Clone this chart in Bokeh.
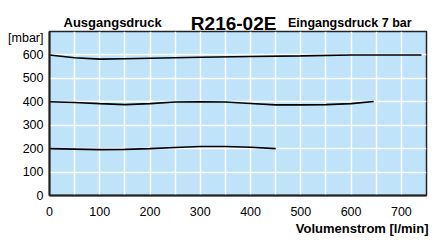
from bokeh.plotting import figure
from bokeh.models import Range1d, Label, FixedTicker, Title
from bokeh.layouts import column
from bokeh.embed import file_html
from bokeh.resources import INLINE

# data
flow_600 = [0, 50, 100, 150, 200, 300, 400, 500, 600, 740]
p_600 = [600, 588, 582, 584, 586, 590, 593, 596, 600, 600]
flow_400 = [0, 50, 100, 150, 200, 250, 300, 350, 400, 450, 500, 550, 600, 645]
p_400 = [400, 397, 392, 388, 392, 399, 400, 399, 393, 387, 387, 388, 392, 401]
flow_200 = [0, 50, 100, 150, 200, 250, 300, 350, 400, 450]
p_200 = [200, 198, 196, 197, 200, 205, 209, 209, 206, 200]
x_ticks = [0, 100, 200, 300, 400, 500, 600, 700]
y_ticks = [0, 100, 200, 300, 400, 500, 600, 700]
y_tick_labels = {700: "[mbar]"}

FONT = "Liberation Sans"
W = 430

# ---- header strip (texts above the chart) ----
h = figure(width=W, height=30, output_backend="svg", toolbar_location=None,
           x_range=Range1d(0, W), y_range=Range1d(30, 0),
           x_axis_location=None, y_axis_location=None, title_location=None,
           min_border_left=0, min_border_right=0, min_border_top=0, min_border_bottom=0)
h.grid.visible = False
h.outline_line_color = None
h.background_fill_color = "white"

def lab(fig, x, y, t, size, align="left"):
    fig.add_layout(Label(x=x, y=y, text=t, text_font=FONT, text_font_size=size,
                         text_font_style="bold", text_align=align,
                         text_baseline="alphabetic", text_color="black"))

lab(h, 16, 22, "Ausgangsdruck", "13px")
lab(h, 210, 23, "R216-02E", "19px", "center")
lab(h, 413, 22, "Eingangsdruck 7 bar", "12.5px", "right")

# ---- main chart ----
p = figure(width=W, height=209, output_backend="svg", toolbar_location=None,
           x_range=Range1d(0, 750), y_range=Range1d(0, 700), title_location=None,
           min_border_left=49, min_border_right=4, min_border_top=1, min_border_bottom=44)
p.background_fill_color = "#bfe3f8"
p.border_fill_color = "white"
p.outline_line_color = "#222222"
p.outline_line_width = 1.5

for ax in (p.xaxis[0], p.yaxis[0]):
    ax.axis_line_color = "#222222"
    ax.axis_line_width = 2
    ax.major_tick_line_color = None
    ax.minor_tick_line_color = None
    ax.major_tick_out = 0
    ax.major_tick_in = 0
    ax.minor_tick_out = 0
    ax.major_label_text_font = FONT
    ax.major_label_text_font_size = "12.5px"
    ax.major_label_text_color = "black"

p.xaxis[0].ticker = FixedTicker(ticks=x_ticks)
p.yaxis[0].ticker = FixedTicker(ticks=y_ticks)
p.yaxis[0].major_label_overrides = y_tick_labels
p.xaxis[0].major_label_standoff = 11
p.yaxis[0].major_label_standoff = 6

p.xgrid[0].ticker = FixedTicker(ticks=list(range(50, 750, 50)))
p.ygrid[0].ticker = FixedTicker(ticks=list(range(100, 700, 100)))
p.xgrid.grid_line_color = "white"
p.ygrid.grid_line_color = "white"
p.xgrid.grid_line_width = 1.5
p.ygrid.grid_line_width = 1.5

for fx, py in ((flow_600, p_600), (flow_400, p_400), (flow_200, p_200)):
    p.line(fx, py, line_color="black", line_width=1.6)

p.add_layout(Title(text="Volumenstrom [l/min]", align="right", offset=-2, standoff=0,
                   text_font=FONT, text_font_size="13px", text_font_style="bold",
                   text_color="black"), "below")

layout = column(h, p, spacing=0)
open("out.html", "w").write(file_html(layout, INLINE))
